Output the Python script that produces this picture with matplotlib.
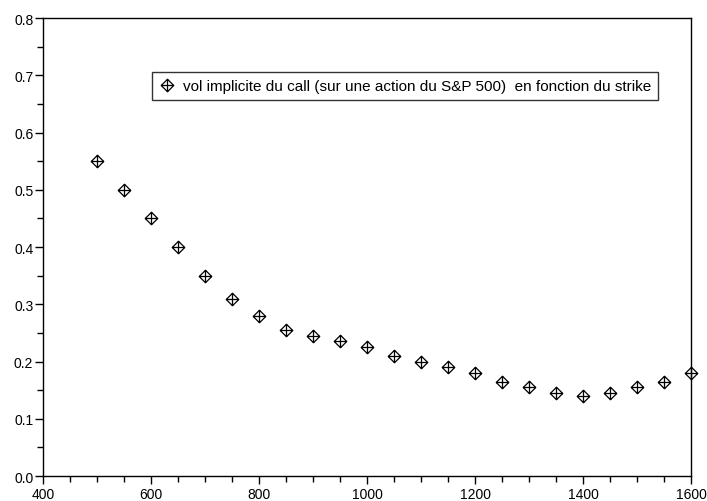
import matplotlib
matplotlib.use("Agg")
import matplotlib.pyplot as plt
from matplotlib.path import Path
from matplotlib.ticker import MultipleLocator, FormatStrFormatter

# strike et volatilité implicite
strike = [500, 550, 600, 650, 700, 750, 800, 850, 900, 950, 1000, 1050,
          1100, 1150, 1200, 1250, 1300, 1350, 1400, 1450, 1500, 1550, 1600]
vol = [0.55, 0.50, 0.45, 0.40, 0.35, 0.31, 0.28, 0.255, 0.245, 0.235, 0.225, 0.21,
       0.20, 0.19, 0.18, 0.165, 0.155, 0.145, 0.14, 0.145, 0.155, 0.165, 0.18]
label = "vol implicite du call (sur une action du S&P 500)  en fonction du strike"

plt.rcParams["font.family"] = ["Liberation Sans", "DejaVu Sans"]

# losange avec une croix (style scilab)
marker = Path(
    [(0, 1), (1, 0), (0, -1), (-1, 0), (0, 1), (-1, 0), (1, 0), (0, -1), (0, 1)],
    [Path.MOVETO, Path.LINETO, Path.LINETO, Path.LINETO, Path.CLOSEPOLY,
     Path.MOVETO, Path.LINETO, Path.MOVETO, Path.LINETO],
)

fig = plt.figure(figsize=(7.07, 5.02), dpi=100)
ax = fig.add_axes([0.0608, 0.0498, 0.9166, 0.9122])
ax.plot(strike, vol, ls="none", marker=marker, ms=9, mfc="none", mec="black",
        mew=0.9, label=label, clip_on=False)

ax.set_xlim(400, 1600)
ax.set_ylim(0, 0.8)
ax.xaxis.set_major_locator(MultipleLocator(200))
ax.xaxis.set_minor_locator(MultipleLocator(50))
ax.yaxis.set_major_locator(MultipleLocator(0.1))
ax.yaxis.set_minor_locator(MultipleLocator(0.05))
ax.yaxis.set_major_formatter(FormatStrFormatter("%.1f"))
ax.tick_params(which="both", direction="out", top=False, right=False,
               labelsize=10, width=1.0, pad=1)
ax.tick_params(which="major", length=6)
ax.tick_params(which="minor", length=4)
ax.tick_params(axis="x", pad=2)
for s in ax.spines.values():
    s.set_linewidth(1.0)

leg = ax.legend(loc="upper left", bbox_to_anchor=(152 / 707, 1 - 73 / 502),
                bbox_transform=fig.transFigure, numpoints=1, fontsize=11,
                fancybox=False, frameon=True, borderpad=0.45, handletextpad=0.6,
                handlelength=1.0, borderaxespad=0)
leg.get_frame().set_edgecolor("black")
leg.get_frame().set_linewidth(1.0)

fig.savefig("out.png", dpi=100)
